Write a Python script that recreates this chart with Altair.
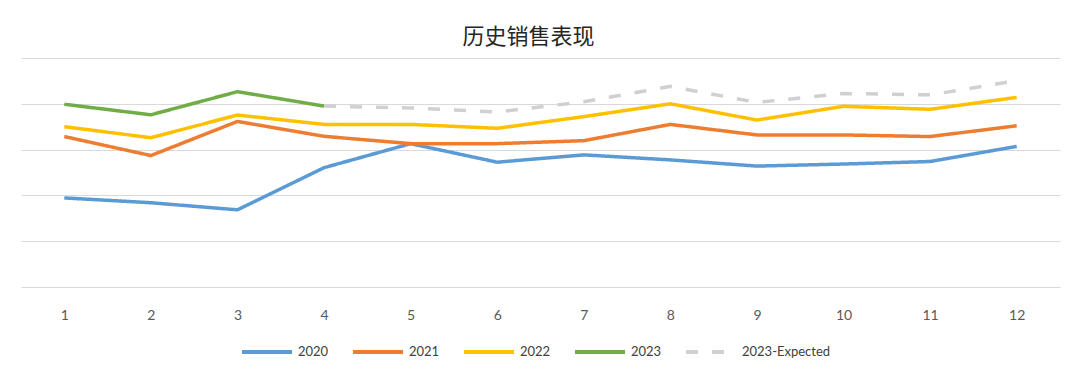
import altair as alt
import pandas as pd

months = [1, 2, 3, 4, 5, 6, 7, 8, 9, 10, 11, 12]
s2020 = [38.9, 36.8, 33.7, 52.1, 62.6, 54.5, 57.7, 55.5, 52.8, 53.7, 54.8, 61.4]
s2021 = [65.7, 57.4, 72.3, 65.8, 62.6, 62.6, 63.9, 71.0, 66.4, 66.4, 65.7, 70.4]
s2022 = [70.0, 65.2, 75.1, 71.0, 71.0, 69.3, 74.4, 80.0, 72.9, 78.9, 77.6, 82.8]
s2023 = [79.8, 75.2, 85.3, 79.0, None, None, None, None, None, None, None, None]
s2023e = [None, None, None, 79.0, 78.2, 76.4, 80.9, 87.6, 80.6, 84.5, 83.9, 90.1]

series_names = ["2020", "2021", "2022", "2023", "2023-Expected"]
series_vals = [s2020, s2021, s2022, s2023, s2023e]
colors = ["#5B9BD5", "#ED7D31", "#FFC000", "#70AD47", "#D0D0D0"]
dashes = [[1, 0], [1, 0], [1, 0], [1, 0], [12, 14]]

rows = []
for name, vals in zip(series_names, series_vals):
    for m, v in zip(months, vals):
        if v is not None:
            rows.append({"month": m, "value": v, "series": name})
df = pd.DataFrame(rows)

chart = alt.Chart(df).mark_line(strokeWidth=3.5).encode(
    x=alt.X("month:O", sort=months, title=None,
            scale=alt.Scale(paddingOuter=0.5),
            axis=alt.Axis(labelAngle=0, ticks=False, domain=False, grid=False,
                          labelPadding=21, labelFontSize=14, labelColor="#595959",
                          labelFont="Lato")),
    y=alt.Y("value:Q", title=None,
            scale=alt.Scale(domain=[0, 100], nice=False, zero=True),
            axis=alt.Axis(values=[0, 20, 40, 60, 80, 100], labels=False, ticks=False,
                          domain=False, grid=True, gridColor="#D9D9D9", gridWidth=1.2)),
    color=alt.Color("series:N", sort=series_names,
                    scale=alt.Scale(domain=series_names, range=colors),
                    legend=alt.Legend(title=None, orient="none", direction="horizontal",
                                      legendX=219, legendY=267,
                                      symbolType="stroke", symbolSize=2500,
                                      symbolStrokeWidth=4, labelFontSize=13,
                                      labelFont="Lato", labelColor="#404040",
                                      labelOffset=4, columnPadding=16, padding=0)),
    strokeDash=alt.StrokeDash("series:N", sort=series_names,
                              scale=alt.Scale(domain=series_names, range=dashes),
                              legend=None),
    detail="series:N",
).properties(
    width=1039,
    height=229,
    background="white",
    title=alt.TitleParams("历史销售表现", font="Noto Sans CJK SC", fontSize=22,
                          fontWeight="normal", color="#262626", anchor="middle",
                          offset=9, dx=-12),
    autosize=alt.AutoSizeParams(type="none"),
    padding={"left": 13, "top": 50, "right": 12, "bottom": 85},
).configure_view(stroke=None)

chart.save("out.html", embed_options={"renderer": "svg", "actions": False})
